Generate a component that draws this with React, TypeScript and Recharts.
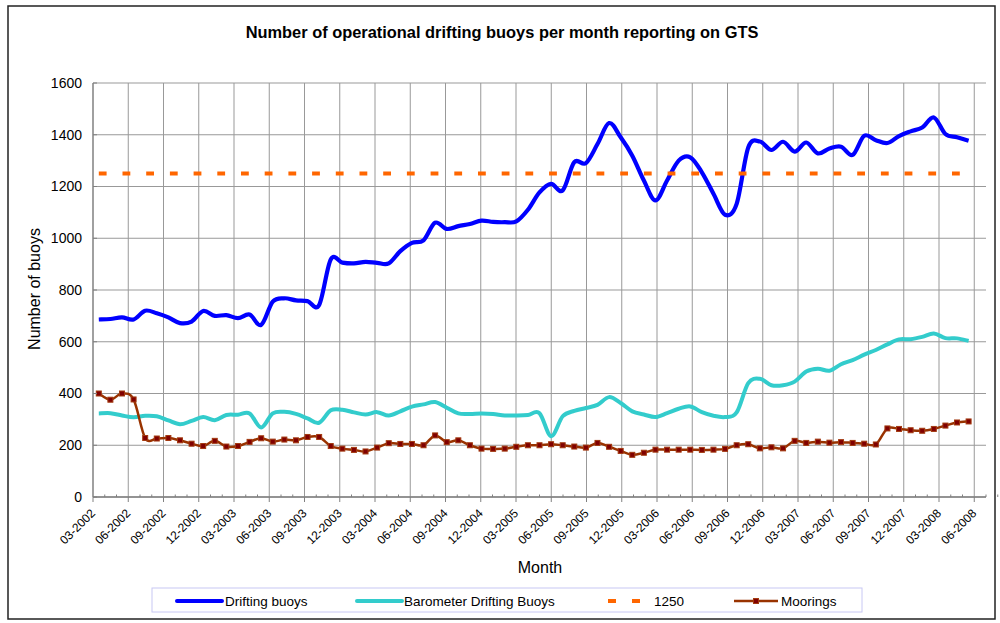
import React from "react";
import { LineChart, Line, XAxis, YAxis, CartesianGrid } from "recharts";

const months = [
  "03-2002", "04-2002", "05-2002", "06-2002", "07-2002", "08-2002", "09-2002", "10-2002", "11-2002", "12-2002",
  "01-2003", "02-2003", "03-2003", "04-2003", "05-2003", "06-2003", "07-2003", "08-2003", "09-2003", "10-2003", "11-2003", "12-2003",
  "01-2004", "02-2004", "03-2004", "04-2004", "05-2004", "06-2004", "07-2004", "08-2004", "09-2004", "10-2004", "11-2004", "12-2004",
  "01-2005", "02-2005", "03-2005", "04-2005", "05-2005", "06-2005", "07-2005", "08-2005", "09-2005", "10-2005", "11-2005", "12-2005",
  "01-2006", "02-2006", "03-2006", "04-2006", "05-2006", "06-2006", "07-2006", "08-2006", "09-2006", "10-2006", "11-2006", "12-2006",
  "01-2007", "02-2007", "03-2007", "04-2007", "05-2007", "06-2007", "07-2007", "08-2007", "09-2007", "10-2007", "11-2007", "12-2007",
  "01-2008", "02-2008", "03-2008", "04-2008", "05-2008", "06-2008", "07-2008",
];

const driftingBuoys = [
  686, 688, 694, 686, 720, 710, 694, 672, 678, 719, 700, 703, 691, 705, 665, 755, 768, 760, 757, 742,
  918, 906, 903, 909, 905, 903, 950, 982, 992, 1060, 1036, 1047, 1055, 1068, 1063, 1062, 1065, 1110, 1177, 1210,
  1185, 1294, 1290, 1364, 1445, 1390, 1319, 1223, 1146, 1223, 1300, 1313, 1255, 1172, 1091, 1133, 1351, 1374, 1341, 1373,
  1335, 1370, 1328, 1347, 1354, 1322, 1396, 1379, 1368, 1395, 1413, 1428, 1467, 1403, 1390, 1377,
];

const barometerBuoys = [
  323, 324, 315, 308, 314, 312, 296, 281, 294, 309, 297, 317, 318, 323, 269, 323, 329, 321, 304, 287,
  335, 337, 327, 319, 328, 315, 331, 349, 358, 367, 345, 323, 321, 323, 321, 315, 315, 317, 324, 235,
  312, 333, 344, 356, 386, 363, 331, 319, 309, 324, 341, 350, 328, 314, 309, 327, 440, 457, 432, 432,
  446, 485, 496, 488, 513, 529, 550, 568, 590, 609, 610, 619, 632, 614, 613, 603,
];

const mooringsCount = [
  400, 376, 400, 377, 228, 226, 228, 219, 206, 197, 217, 195, 197, 213, 227, 214, 222, 219, 232, 232,
  197, 187, 182, 176, 191, 208, 205, 205, 200, 238, 212, 219, 200, 187, 186, 187, 194, 200, 200, 204,
  200, 195, 191, 209, 194, 178, 163, 171, 183, 183, 183, 183, 182, 183, 186, 200, 204, 188, 192, 188,
  217, 209, 214, 210, 212, 209, 206, 203, 265, 263, 258, 256, 263, 276, 288, 292,
];

const targetLevel = 1250;
const yTicks = [0, 200, 400, 600, 800, 1000, 1200, 1400, 1600];
const labelStep = 3;

const rows = months.map((m, i) => ({
  month: m,
  drifting: driftingBuoys[i],
  barometer: barometerBuoys[i],
  target: i < driftingBuoys.length ? targetLevel : undefined,
  moorings: mooringsCount[i],
}));

const boundaryTicks = months.map((_, i) => i).concat([months.length]);
const gridValues = boundaryTicks.filter((i) => i > 0 && i % labelStep === 0 && i < months.length);

const FONT = "'Liberation Sans', Arial, sans-serif";
const AXIS_COLOR = "#808080";
const GRID_COLOR = "#999999";

// Excel-like smoothed line (uniform Catmull-Rom as cubic Bezier)
const excelSmooth = (context: any) => {
  let pts: number[][] = [];
  return {
    areaStart() {},
    areaEnd() {},
    lineStart() {
      pts = [];
    },
    point(x: number, y: number) {
      pts.push([+x, +y]);
    },
    lineEnd() {
      const n = pts.length;
      if (!n) return;
      context.moveTo(pts[0][0], pts[0][1]);
      for (let i = 0; i < n - 1; i++) {
        const p0 = pts[i - 1] || pts[i];
        const p1 = pts[i];
        const p2 = pts[i + 1];
        const p3 = pts[i + 2] || pts[i + 1];
        context.bezierCurveTo(
          p1[0] + (p2[0] - p0[0]) / 6,
          p1[1] + (p2[1] - p0[1]) / 6,
          p2[0] - (p3[0] - p1[0]) / 6,
          p2[1] - (p3[1] - p1[1]) / 6,
          p2[0],
          p2[1]
        );
      }
    },
  };
};

const MonthTick = (props: any) => {
  const { x, y, payload } = props;
  const v = payload.value;
  if (v % labelStep === 0 && v < months.length) {
    const py = y + 14;
    return (
      <g>
        <line x1={x} y1={y} x2={x} y2={y + 5} stroke={AXIS_COLOR} strokeWidth={1} />
        <text
          x={x}
          y={py}
          dy="0.35em"
          textAnchor="end"
          transform={`rotate(-45 ${x} ${py})`}
          fontSize={12}
          fontFamily={FONT}
          fill="#000"
        >
          {months[v]}
        </text>
      </g>
    );
  }
  return <line x1={x} y1={y - 2.5} x2={x} y2={y} stroke={AXIS_COLOR} strokeWidth={1} />;
};

const CountTick = (props: any) => {
  const { x, y, payload } = props;
  return (
    <g>
      <line x1={x} y1={y} x2={x + 4} y2={y} stroke={AXIS_COLOR} strokeWidth={1} />
      <text x={x - 11} y={y} dy="0.35em" textAnchor="end" fontSize={14} fontFamily={FONT} fill="#000">
        {payload.value}
      </text>
    </g>
  );
};

const MooringDot = (props: any) => {
  const { cx, cy, index } = props;
  if (cx == null || cy == null) return <g key={`md-${index}`} />;
  return (
    <rect
      key={`md-${index}`}
      x={cx - 2.5}
      y={cy - 2.5}
      width={5}
      height={5}
      fill="#800000"
      stroke="#A33A10"
      strokeWidth={1}
    />
  );
};

export default function App() {
  return (
    <div style={{ position: "absolute", left: 0, top: 0, width: 1000, height: 623, background: "#fff" }}>
      <LineChart
        width={1000}
        height={623}
        data={rows}
        margin={{ top: 83, right: 14, bottom: 66, left: 0 }}
      >
        <CartesianGrid
          xAxisId="idx"
          stroke={GRID_COLOR}
          strokeWidth={1}
          verticalValues={gridValues}
        />
        <XAxis xAxisId="cat" dataKey="month" scale="band" hide height={0} />
        <XAxis
          xAxisId="idx"
          type="number"
          domain={[0, months.length]}
          allowDataOverflow
          ticks={boundaryTicks}
          interval={0}
          height={60}
          tickSize={0}
          tickMargin={0}
          tickLine={false}
          tick={<MonthTick />}
          axisLine={{ stroke: AXIS_COLOR, strokeWidth: 1.5 }}
        />
        <YAxis
          domain={[0, 1600]}
          ticks={yTicks}
          interval={0}
          width={93}
          tickSize={0}
          tickMargin={0}
          tickLine={false}
          tick={<CountTick />}
          axisLine={{ stroke: AXIS_COLOR, strokeWidth: 1.5 }}
        />
        <Line
          xAxisId="cat"
          dataKey="drifting"
          name="Drifting buoys"
          type={excelSmooth as any}
          stroke="#0000FF"
          strokeWidth={4.2}
          dot={false}
          activeDot={false}
          isAnimationActive={false}
        />
        <Line
          xAxisId="cat"
          dataKey="barometer"
          name="Barometer Drifting Buoys"
          type={excelSmooth as any}
          stroke="#33CCCC"
          strokeWidth={4}
          dot={false}
          activeDot={false}
          isAnimationActive={false}
        />
        <Line
          xAxisId="cat"
          dataKey="target"
          name="1250"
          type="linear"
          stroke="#FF6600"
          strokeWidth={4}
          strokeDasharray="7.8 15.9"
          dot={false}
          activeDot={false}
          isAnimationActive={false}
        />
        <Line
          xAxisId="cat"
          dataKey="moorings"
          name="Moorings"
          type={excelSmooth as any}
          stroke="#993300"
          strokeWidth={2.5}
          dot={<MooringDot />}
          activeDot={false}
          isAnimationActive={false}
        />
      </LineChart>
      <svg
        width={1000}
        height={623}
        style={{ position: "absolute", left: 0, top: 0, pointerEvents: "none" }}
      >
        <rect x={8} y={6} width={987} height={613} fill="none" stroke="#222" strokeWidth={1.5} />
        <text x={502} y={38} textAnchor="middle" fontSize={16.4} fontWeight="bold" fontFamily={FONT} fill="#000">
          Number of operational drifting buoys per month reporting on GTS
        </text>
        <text
          x={34}
          y={289}
          dy="0.35em"
          textAnchor="middle"
          transform="rotate(-90 34 289)"
          fontSize={16}
          fontFamily={FONT}
          fill="#000"
        >
          Number of buoys
        </text>
        <text x={540} y={573} textAnchor="middle" fontSize={16} fontFamily={FONT} fill="#000">
          Month
        </text>
        <rect x={152} y={588} width={710} height={24} fill="#fff" stroke="#c8c8f4" strokeWidth={1} />
        <line x1={177} y1={601} x2={222} y2={601} stroke="#0000FF" strokeWidth={4} strokeLinecap="round" />
        <text x={225} y={606} fontSize={13.5} fontFamily={FONT} fill="#000">Drifting buoys</text>
        <line x1={357} y1={601} x2={402} y2={601} stroke="#33CCCC" strokeWidth={4} strokeLinecap="round" />
        <text x={404} y={606} fontSize={13.5} fontFamily={FONT} fill="#000">Barometer Drifting Buoys</text>
        <line x1={608} y1={601} x2={641} y2={601} stroke="#FF6600" strokeWidth={4} strokeDasharray="8 16" />
        <text x={654} y={606} fontSize={13.5} fontFamily={FONT} fill="#000">1250</text>
        <line x1={734} y1={601} x2={778} y2={601} stroke="#993300" strokeWidth={2.5} />
        <rect x={753.5} y={598.5} width={5} height={5} fill="#800000" stroke="#A33A10" strokeWidth={1} />
        <text x={781} y={606} fontSize={13.5} fontFamily={FONT} fill="#000">Moorings</text>
      </svg>
    </div>
  );
}
